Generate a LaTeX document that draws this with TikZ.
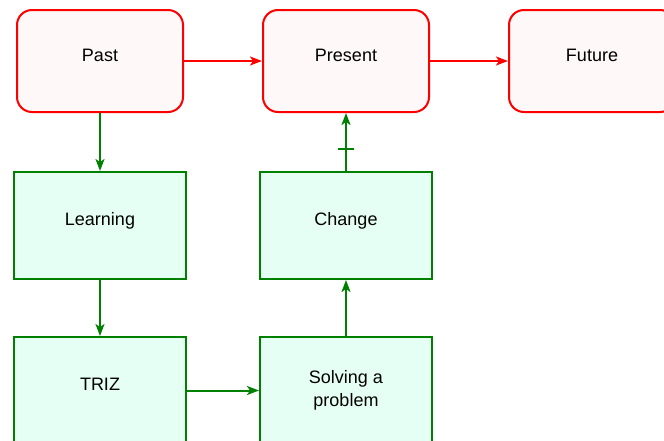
\documentclass[tikz,border=0pt]{standalone}
\usepackage{fontspec}
\setsansfont{Liberation Sans}
\usepackage{tikz}
\usetikzlibrary{arrows.meta}

\definecolor{boxred}{RGB}{255,0,0}
\definecolor{pinkfill}{RGB}{255,248,248}
\definecolor{boxgreen}{RGB}{0,128,0}
\definecolor{mintfill}{RGB}{230,255,244}

\begin{document}
\begin{tikzpicture}[
    x=1pt, y=-1pt,
    every node/.style={font=\fontsize{18}{23}\selectfont\sffamily},
    % Time boxes (top row)
    timebox/.style={
        rectangle,
        draw=boxred,
        fill=pinkfill,
        line width=2pt,
        rounded corners=15pt,
        minimum width=166pt,
        minimum height=102pt,
        text height=13pt,
        text depth=13pt
    },
    % Activity boxes
    actbox/.style={
        rectangle,
        draw=boxgreen,
        fill=mintfill,
        line width=2pt,
        minimum width=172pt,
        minimum height=107pt,
        text height=13pt,
        text depth=13pt
    },
    flowred/.style={line width=2pt, boxred, -{Stealth[length=12pt, width=9pt, inset=3pt]}},
    flowgreen/.style={line width=2pt, boxgreen, -{Stealth[length=12pt, width=9pt, inset=3pt]}},
    tickline/.style={line width=2pt, boxgreen}
]

\clip (0,0) rectangle (664,440);

% Top row
\node[timebox] (past) at (100,61) {Past};
\node[timebox] (present) at (346,61) {Present};
\node[timebox] (future) at (592,61) {Future};

% Middle row
\node[actbox] (learning) at (100,225.5) {Learning};
\node[actbox] (change) at (346,225.5) {Change};

% Bottom row
\node[actbox] (triz) at (100,390.5) {TRIZ};
\node[actbox, text height=, text depth=, align=center] (solving) at (346,390.5) {Solving a\\problem};

% Connectors
\draw[flowred] (past) -- (present);
\draw[flowred] (present) -- (future);
\draw[flowgreen] (past) -- (learning);
\draw[flowgreen] (learning) -- (triz);
\draw[flowgreen] (triz) -- (solving);
\draw[flowgreen] (solving) -- (change);
\draw[flowgreen] (change) -- coordinate[pos=0.38] (tick) (present);
\draw[tickline] ([xshift=-8pt]tick) -- ([xshift=8pt]tick);

\end{tikzpicture}
\end{document}
